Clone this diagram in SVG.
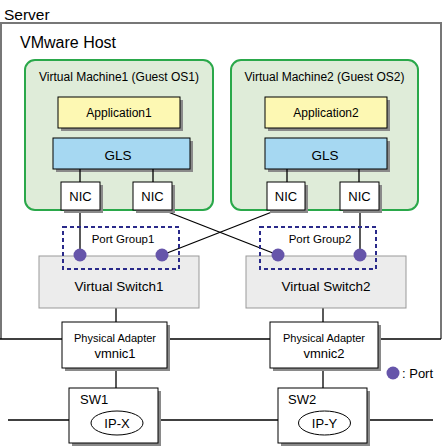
<svg xmlns="http://www.w3.org/2000/svg" width="443" height="447" viewBox="0 0 443 447">
<style>
text{font-family:"Liberation Sans",Arial,sans-serif;fill:#000}
.box{stroke:#000;stroke-width:1}
.sh{fill:#8a8a8a}
.ln{stroke:#000;stroke-width:1.3;fill:none}
.vm{fill:#dfecd9;stroke:#2aa84a;stroke-width:2}
.port{fill:#6655aa}
.pg{fill:none;stroke:#2a2a8a;stroke-width:2;stroke-dasharray:4,3}
.vs{fill:#ececec;stroke:#999;stroke-width:1}
</style>
<rect width="443" height="447" fill="#fff"/>
<g id="server">
<text x="4" y="20" font-size="15.5">Server</text>
<path d="M1,339 V23 H441 V339" fill="none" stroke="#777" stroke-width="2"/>
<text x="20" y="48" font-size="16">VMware Host</text>
</g>
<g id="vm1">
<rect x="25" y="60" width="188" height="150" rx="10" class="vm"/>
<text x="119" y="81" font-size="12" text-anchor="middle">Virtual Machine1 (Guest OS1)</text>
</g>
<g id="vm2">
<rect x="231" y="60" width="187" height="150" rx="10" class="vm"/>
<text x="324.5" y="81" font-size="12" text-anchor="middle">Virtual Machine2 (Guest OS2)</text>
</g>
<g id="app1">
<rect x="61" y="100" width="122" height="31" class="sh"/>
<rect x="58" y="97" width="122" height="31" fill="#fdf8b3" class="box"/>
<text x="119" y="117" font-size="12" text-anchor="middle">Application1</text>
</g>
<g id="app2">
<rect x="268" y="100" width="122" height="31" class="sh"/>
<rect x="265" y="97" width="122" height="31" fill="#fdf8b3" class="box"/>
<text x="326" y="117" font-size="12" text-anchor="middle">Application2</text>
</g>
<g id="gls1">
<rect x="56" y="141" width="137" height="31" class="sh"/>
<rect x="53" y="138" width="137" height="31" fill="#a6d8f2" class="box"/>
<text x="118" y="160" font-size="13.5" text-anchor="middle">GLS</text>
</g>
<g id="gls2">
<rect x="268" y="141" width="122" height="31" class="sh"/>
<rect x="265" y="138" width="122" height="31" fill="#a6d8f2" class="box"/>
<text x="325" y="160" font-size="13.5" text-anchor="middle">GLS</text>
</g>
<g id="connectors">
<line x1="80" y1="169" x2="80" y2="182" class="ln"/>
<line x1="153" y1="169" x2="153" y2="182" class="ln"/>
<line x1="287" y1="169" x2="287" y2="182" class="ln"/>
<line x1="359" y1="169" x2="359" y2="182" class="ln"/>
<line x1="80" y1="210" x2="80" y2="255" class="ln"/>
<line x1="163" y1="210" x2="278" y2="255" class="ln"/>
<line x1="277" y1="210" x2="162" y2="255" class="ln"/>
<line x1="360" y1="210" x2="360" y2="255" class="ln"/>
<line x1="116" y1="308" x2="116" y2="322" class="ln"/>
<line x1="323" y1="308" x2="323" y2="322" class="ln"/>
<line x1="0" y1="339" x2="62" y2="339" class="ln"/>
<line x1="167" y1="339" x2="270" y2="339" class="ln"/>
<line x1="378" y1="339" x2="441" y2="339" class="ln"/>
<line x1="116" y1="368" x2="116" y2="388" class="ln"/>
<line x1="323" y1="368" x2="323" y2="388" class="ln"/>
<line x1="8" y1="420" x2="69" y2="420" class="ln"/>
<line x1="158" y1="420" x2="278" y2="420" class="ln"/>
<line x1="367" y1="420" x2="433" y2="420" class="ln"/>
</g>
<g id="nic1">
<rect x="64" y="185" width="39" height="28" class="sh"/>
<rect x="61" y="182" width="39" height="28" fill="#fff" class="box"/>
<text x="80.5" y="201" font-size="13" text-anchor="middle">NIC</text>
</g>
<g id="nic2">
<rect x="136" y="185" width="39" height="28" class="sh"/>
<rect x="133" y="182" width="39" height="28" fill="#fff" class="box"/>
<text x="152.5" y="201" font-size="13" text-anchor="middle">NIC</text>
</g>
<g id="nic3">
<rect x="270" y="185" width="38" height="28" class="sh"/>
<rect x="267" y="182" width="38" height="28" fill="#fff" class="box"/>
<text x="286" y="201" font-size="13" text-anchor="middle">NIC</text>
</g>
<g id="nic4">
<rect x="343" y="185" width="39" height="28" class="sh"/>
<rect x="340" y="182" width="39" height="28" fill="#fff" class="box"/>
<text x="359.5" y="201" font-size="13" text-anchor="middle">NIC</text>
</g>
<g id="vswitch1">
<rect x="39" y="256" width="160" height="52" class="vs"/>
<text x="119" y="291" font-size="13.5" text-anchor="middle">Virtual Switch1</text>
</g>
<g id="vswitch2">
<rect x="246" y="256" width="160" height="52" class="vs"/>
<text x="326" y="291" font-size="13.5" text-anchor="middle">Virtual Switch2</text>
</g>
<g id="portgroup1">
<rect x="63" y="227" width="116" height="42" class="pg"/>
<text x="123" y="243" font-size="11.5" text-anchor="middle">Port Group1</text>
<circle cx="80" cy="255" r="6.5" class="port"/>
<circle cx="162" cy="255" r="6.5" class="port"/>
</g>
<g id="portgroup2">
<rect x="260" y="227" width="116" height="42" class="pg"/>
<text x="320" y="243" font-size="11.5" text-anchor="middle">Port Group2</text>
<circle cx="278" cy="255" r="6.5" class="port"/>
<circle cx="360" cy="255" r="6.5" class="port"/>
</g>
<g id="vmnic1">
<rect x="65" y="325" width="105" height="46" class="sh"/>
<rect x="62" y="322" width="105" height="46" fill="#fff" class="box"/>
<text x="115" y="342" font-size="11" text-anchor="middle">Physical Adapter</text>
<text x="115" y="358" font-size="13" text-anchor="middle">vmnic1</text>
</g>
<g id="vmnic2">
<rect x="273" y="325" width="108" height="46" class="sh"/>
<rect x="270" y="322" width="108" height="46" fill="#fff" class="box"/>
<text x="324" y="342" font-size="11" text-anchor="middle">Physical Adapter</text>
<text x="324" y="358" font-size="13" text-anchor="middle">vmnic2</text>
</g>
<g id="sw1">
<rect x="72" y="391" width="89" height="55" class="sh"/>
<rect x="69" y="388" width="89" height="55" fill="#fff" class="box"/>
<text x="80" y="404" font-size="13">SW1</text>
<ellipse cx="117" cy="423" rx="26" ry="12" fill="#fff" class="box"/>
<text x="117" y="428" font-size="13" text-anchor="middle">IP-X</text>
</g>
<g id="sw2">
<rect x="281" y="391" width="89" height="55" class="sh"/>
<rect x="278" y="388" width="89" height="55" fill="#fff" class="box"/>
<text x="288" y="404" font-size="13">SW2</text>
<ellipse cx="324.5" cy="423" rx="26" ry="12" fill="#fff" class="box"/>
<text x="324.5" y="428" font-size="13" text-anchor="middle">IP-Y</text>
</g>
<g id="legend">
<circle cx="393" cy="373" r="6.5" class="port"/>
<text x="402" y="378" font-size="13">: Port</text>
</g>
</svg>
